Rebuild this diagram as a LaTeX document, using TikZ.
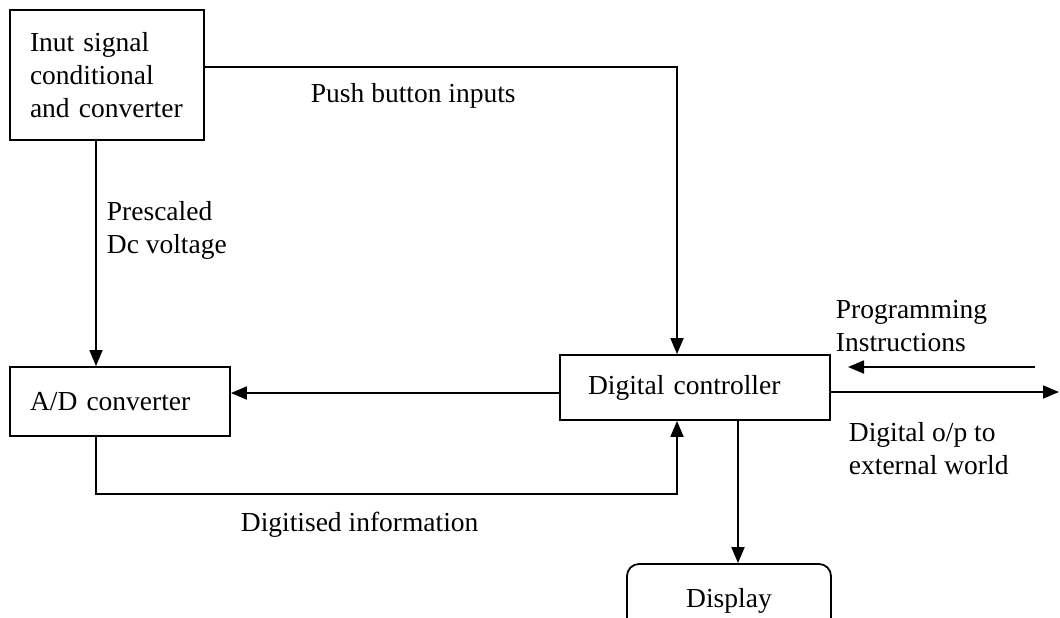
\documentclass[tikz,border=0pt]{standalone}
\usepackage{fontspec}
\setmainfont{Liberation Serif}
\usepackage{tikz}
\usetikzlibrary{arrows.meta, positioning}

\begin{document}
\begin{tikzpicture}[x=0.5pt, y=-0.5pt, line width=0.9pt, >={Triangle[length=8pt, width=6.5pt]},
    every node/.style={font=\fontsize{13.75}{16.5}\selectfont}]
    % Styles
    \tikzstyle{block} = [rectangle, draw, line width=0.9pt, inner xsep=10pt, inner ysep=0pt, align=left]
    \tikzstyle{note} = [inner sep=0pt, align=left, anchor=west]

    \useasboundingbox (0,0) rectangle (1060,617);
    \clip (0,0) rectangle (1060,617);

    % Blocks
    \node[block, text width=77pt, minimum height=65pt] (cond) at (107,75) {Inut signal\\conditional\\and converter};
    \node[block, text width=90pt, minimum height=34.5pt] (adc) at (120,401.5) {A/D converter};
    \node[block, inner xsep=14pt, text width=107pt, minimum height=32.5pt] (ctrl) at (695,387.5) {Digital controller};
    \node[block, rounded corners=6pt, align=center, minimum width=102pt, minimum height=37pt] (disp) at (729,601) {Display};

    % Free ends
    \coordinate (progIn) at (1035,367);
    \coordinate (progEnd) at (848,367);
    \coordinate (outEnd) at (1059,392);

    % Labels
    \node[note] (push) at (310,96) {Push button inputs};
    \node[note] (presc) at (106,230) {Prescaled\\Dc voltage};
    \node[note] (digi) at (240,525) {Digitised information};
    \node[note] (prog) at (835,326) {Programming\\Instructions};
    \node[note] (extw) at (848,449) {Digital o/p to\\external world};

    % Arrows
    \draw[->] ([yshift=4pt]cond.east) -| ([xshift=-9pt]ctrl.north);
    \draw[->] ([xshift=-5.5pt]cond.south) -- ([xshift=-5.5pt]cond.south |- adc.north);
    \draw[->] ([yshift=-2.75pt]ctrl.west) -- ([yshift=-2.75pt]ctrl.west -| adc.east);
    \draw[->] ([xshift=-12pt]adc.south) -- ++(0,-28.5pt) -| ([xshift=-9pt]ctrl.south);
    \draw[->] ([xshift=21.5pt]ctrl.south) -- ([xshift=21.5pt]ctrl.south |- disp.north);
    \draw[->] (progIn) -- (progEnd);
    \draw[->] ([yshift=-2.25pt]ctrl.east) -- (outEnd);
\end{tikzpicture}
\end{document}
